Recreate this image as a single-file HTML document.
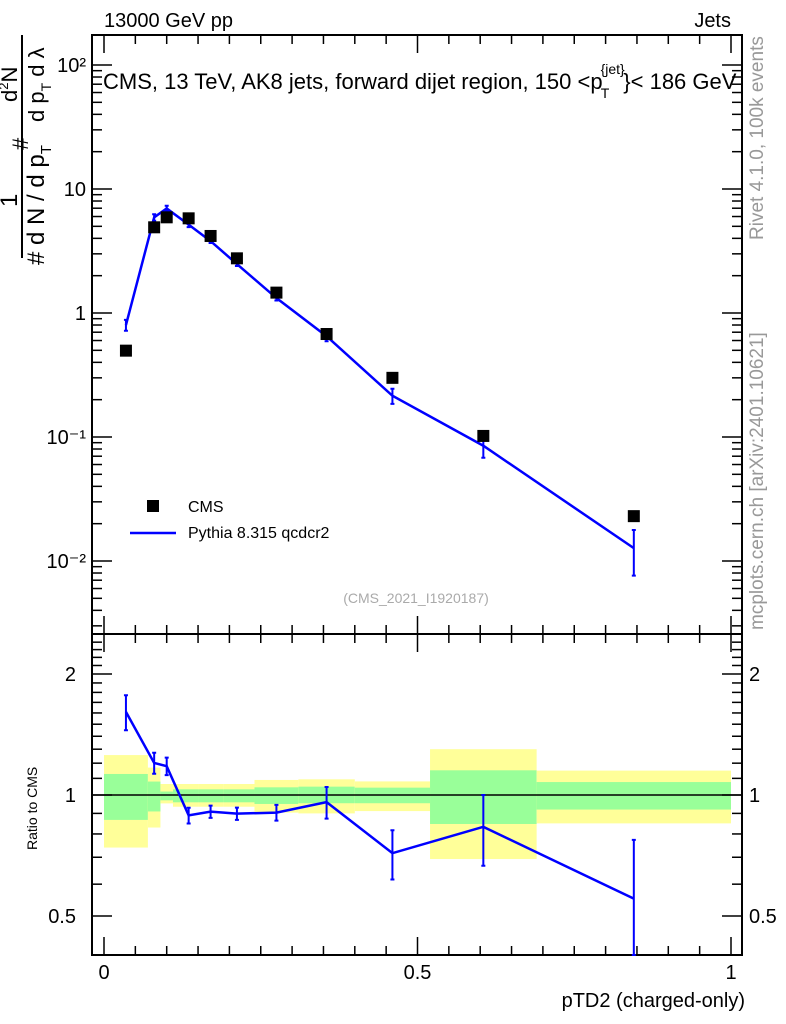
<!DOCTYPE html>
<html><head><meta charset="utf-8"><style>
body{margin:0;background:#fff;}
svg{display:block;font-family:"Liberation Sans",sans-serif;}
</style></head><body>
<svg id="chart" width="786" height="1024" viewBox="0 0 786 1024" xmlns="http://www.w3.org/2000/svg">
<g id="bands"></g>
<g id="axes"></g>
<g id="marks"></g>
<text x="104" y="27" font-size="20">13000 GeV pp</text>
<text x="731" y="27" font-size="20" text-anchor="end">Jets</text>
<text x="103" y="89" font-size="22">CMS, 13 TeV, AK8 jets, forward dijet region, 150 &lt;p<tspan font-size="14" dy="-15" dx="-2">{jet}</tspan><tspan font-size="14" dx="-24" dy="24">T</tspan><tspan dy="-9" dx="14">}&lt; 186 GeV</tspan></text>
<text transform="translate(763,240) rotate(-90)" font-size="19" fill="#999">Rivet 4.1.0,  100k events</text>
<text transform="translate(763,630) rotate(-90)" font-size="19" fill="#999">mcplots.cern.ch [arXiv:2401.10621]</text>
<text x="416" y="603" font-size="14" fill="#aaa" text-anchor="middle">(CMS_2021_I1920187)</text>
<g>
<rect x="147" y="500" width="12" height="12" fill="#000"/>
<text x="188" y="512" font-size="16">CMS</text>
<line x1="130" y1="533" x2="176" y2="533" stroke="#00f" stroke-width="2.5"/>
<text x="188" y="538" font-size="16">Pythia 8.315 qcdcr2</text>
</g>
<g font-size="24">
<line x1="22" y1="35" x2="22" y2="258" stroke="#000" stroke-width="2"/>
<text transform="translate(17,207) rotate(-90)">1</text>
<text transform="translate(44,265) rotate(-90)"># d N / d p<tspan font-size="15" dy="7">T</tspan></text>
<text transform="translate(28,150) rotate(-90)" font-size="22">#</text>
<text transform="translate(44,122) rotate(-90)" font-size="22">d p<tspan font-size="14" dy="7">T</tspan><tspan dy="-7">  d λ</tspan></text>
<text transform="translate(17,102) rotate(-90)" font-size="22">d<tspan font-size="13" dy="-9">2</tspan><tspan dy="9">N</tspan></text>
</g>
<text transform="translate(37,850) rotate(-90)" font-size="14">Ratio to CMS</text>
<text x="745" y="1007" font-size="20" text-anchor="end">pTD2 (charged-only)</text>
</svg>
<script>
const xPts = [0.035,0.08,0.1,0.135,0.17,0.212,0.275,0.355,0.46,0.605,0.845];
const binEdges = [0,0.07,0.09,0.11,0.15,0.19,0.24,0.31,0.4,0.52,0.69,1.0];
const cmsVals = [0.497,4.91,5.91,5.8,4.18,2.76,1.46,0.677,0.30,0.102,0.023];
const mcVals = [0.80,5.9,6.97,5.16,3.8,2.48,1.32,0.65,0.215,0.085,0.0127];
const mcRelErr = [0.10,0.06,0.05,0.045,0.035,0.035,0.045,0.09,0.14,0.2,0.4];
const yellowHi = [1.257,1.17,1.065,1.065,1.065,1.065,1.09,1.094,1.081,1.30,1.15];
const yellowLo = [0.74,0.83,0.953,0.935,0.935,0.935,0.904,0.90,0.912,0.693,0.85];
const greenHi = [1.128,1.08,1.02,1.033,1.033,1.033,1.045,1.049,1.043,1.152,1.077];
const greenLo = [0.867,0.91,0.97,0.959,0.959,0.959,0.95,0.954,0.954,0.847,0.92];
const xTicks = [0,0.5,1];
const mainTicks = [0.01,0.1,1,10,100];
const mainTickLabels = ["10\u207B\u00B2","10\u207B\u00B9","1","10","10\u00B2"];
const ratioTicks = [0.5,1,2];
const ratioTickLabels = ["0.5","1","2"];

const NS="http://www.w3.org/2000/svg";
const L=92,R=742,T=35,MB=634,RB=955;
const X=v=>104+627*v;
const Y=v=>313-124*Math.log10(v);
const YR=v=>795-121*Math.log2(v);
function mk(p,tag,a){const e=document.createElementNS(NS,tag);for(const k in a)e.setAttribute(k,a[k]);p.appendChild(e);return e;}
const bands=document.getElementById('bands'),axes=document.getElementById('axes'),marks=document.getElementById('marks');
const clampR=v=>Math.min(Math.max(v,0.4),2.52);
for(let i=0;i<yellowHi.length;i++){
 const x0=X(binEdges[i]),x1=X(binEdges[i+1]);
 const y=mk(bands,'rect',{x:x0,y:YR(yellowHi[i]),width:x1-x0,height:YR(yellowLo[i])-YR(yellowHi[i]),fill:'#ffff99'});
 
 
 const g=mk(bands,'rect',{x:x0,y:YR(greenHi[i]),width:x1-x0,height:YR(greenLo[i])-YR(greenHi[i]),fill:'#99ff99'});
 
 
}
mk(axes,'line',{x1:L,y1:YR(1),x2:R,y2:YR(1),stroke:'#000','stroke-width':1.5});
mk(axes,'rect',{x:L,y:T,width:R-L,height:MB-T,fill:'none',stroke:'#000','stroke-width':2});
mk(axes,'rect',{x:L,y:MB,width:R-L,height:RB-MB,fill:'none',stroke:'#000','stroke-width':2});
for(let v=0;v<=1.0001;v+=0.05){
 const big=Math.abs(v*10-Math.round(v*10))<1e-6 && Math.round(v*10)%5===0;
 const len=big?18:9;
 for(const [yb,yt] of [[MB,T],[RB,MB]]){
  mk(axes,'line',{x1:X(v),y1:yb,x2:X(v),y2:yb-len,stroke:'#000','stroke-width':1.5});
  mk(axes,'line',{x1:X(v),y1:yt,x2:X(v),y2:yt+len,stroke:'#000','stroke-width':1.5});
 }
}
xTicks.forEach((v,i)=>{const t=mk(axes,'text',{x:X(v),y:979,'font-size':20,'text-anchor':'middle'});t.textContent=String(v);
 
 });
for(let d=-3;d<=2;d++){for(let m=1;m<10;m++){const v=m*Math.pow(10,d);const y=Y(v);if(y<T||y>MB)continue;
 const len=m===1?20:10;
 mk(axes,'line',{x1:L,y1:y,x2:L+len,y2:y,stroke:'#000','stroke-width':1.5});
 mk(axes,'line',{x1:R,y1:y,x2:R-len,y2:y,stroke:'#000','stroke-width':1.5});}}
mainTicks.forEach((v,i)=>{const t=mk(axes,'text',{x:86,y:Y(v)+7,'font-size':20,'text-anchor':'end'});t.textContent=mainTickLabels[i];
 
 });
for(let v=0.4;v<=2.5;v+=0.1){const y=YR(v);if(y<MB||y>RB)continue;const big=[0.5,1,2].some(b=>Math.abs(b-v)<1e-6);
 const len=big?20:10;
 mk(axes,'line',{x1:L,y1:y,x2:L+len,y2:y,stroke:'#000','stroke-width':1.5});
 mk(axes,'line',{x1:R,y1:y,x2:R-len,y2:y,stroke:'#000','stroke-width':1.5});}
ratioTicks.forEach((v,i)=>{
 const a=mk(axes,'text',{x:76,y:YR(v)+7,'font-size':20,'text-anchor':'end'});a.textContent=ratioTickLabels[i];
 
 
 const b=mk(axes,'text',{x:749,y:YR(v)+7,'font-size':20});b.textContent=ratioTickLabels[i];
 
 });
const mainPts=xPts.map((x,i)=>X(x)+','+Y(mcVals[i])).join(' ');
const ml=mk(marks,'polyline',{points:mainPts,fill:'none',stroke:'#00f','stroke-width':2.5});


xPts.forEach((x,i)=>{
 const lo=Y(mcVals[i]*(1-mcRelErr[i])),hi=Y(mcVals[i]*(1+mcRelErr[i]));
 const e=mk(marks,'path',{d:`M${X(x)},${lo}V${hi}M${X(x)-2},${lo}h4M${X(x)-2},${hi}h4`,stroke:'#00f','stroke-width':2,fill:'none'});
 
 
 const r=mk(marks,'rect',{x:X(x)-6,y:Y(cmsVals[i])-6,width:12,height:12,fill:'#000'});
 
 
});
const ratio=mcVals.map((m,i)=>m/cmsVals[i]);
const rl=mk(marks,'polyline',{points:xPts.map((x,i)=>X(x)+','+YR(ratio[i])).join(' '),fill:'none',stroke:'#00f','stroke-width':2.5});


xPts.forEach((x,i)=>{
 const lo=YR(clampR(ratio[i]*(1-mcRelErr[i]))),hi=YR(clampR(ratio[i]*(1+mcRelErr[i])));
 const e=mk(marks,'path',{d:`M${X(x)},${lo}V${hi}M${X(x)-2},${lo}h4M${X(x)-2},${hi}h4`,stroke:'#00f','stroke-width':2,fill:'none'});
 
 
});
</script>
</body></html>
